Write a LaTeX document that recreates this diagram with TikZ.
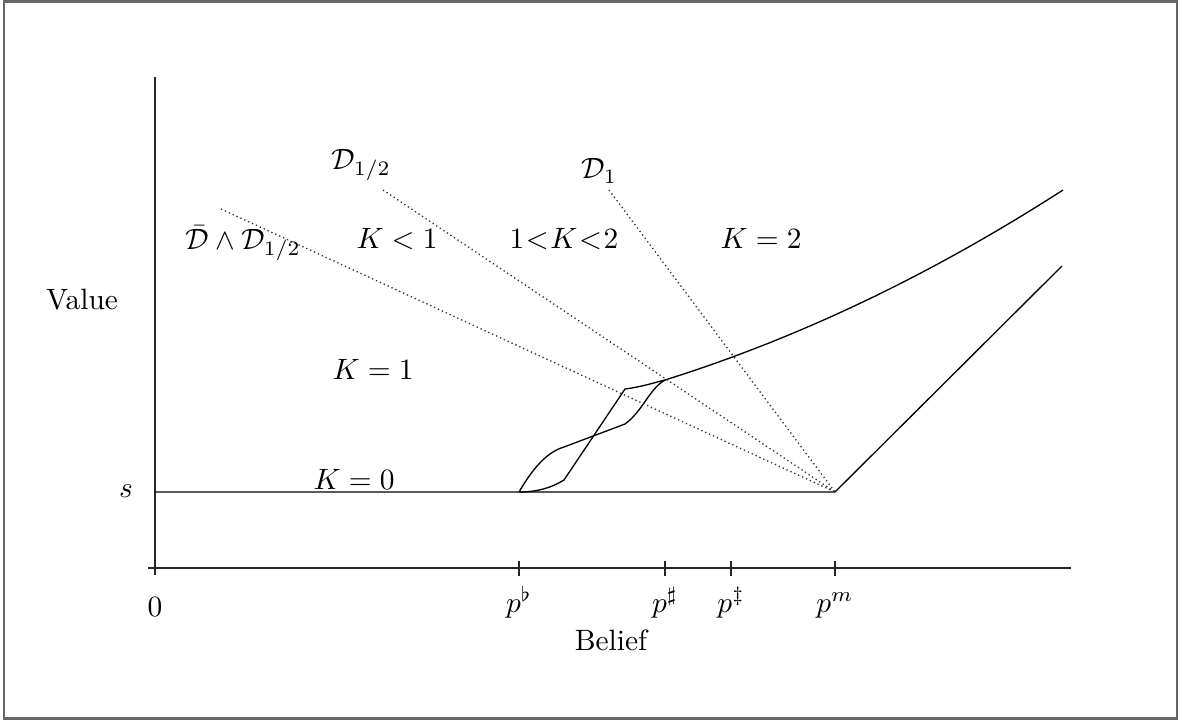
\documentclass[tikz,border=0pt]{standalone}
\usepackage{amssymb}
\begin{document}
\begin{tikzpicture}[x=0.34pt,y=-0.34pt,
  axis/.style={line width=0.55pt,black!85},
  curve/.style={line width=0.45pt,black},
  dots/.style={densely dotted,line width=0.45pt,black!80},
  lbl/.style={inner sep=0pt,anchor=base},
  frame/.style={line width=0.7pt,black!60}]
\useasboundingbox (0,0) rectangle (1182,720);
\draw[frame] (4,1.5) rectangle (1177,718.5);
% axes
\coordinate (ytop) at (155,77);
\coordinate (ybot) at (155,575);
\coordinate (xl) at (148,568);
\coordinate (xr) at (1071,568);
\draw[axis] (ytop) -- (ybot);
\draw[axis] (xl) -- (xr);
\foreach \x/\n in {519/pb,665/ps,731/pd,835/pm}{
  \coordinate (\n t) at (\x,561);
  \coordinate (\n b) at (\x,576);
  \draw[axis] (\n t) -- (\n b);
}
% key points
\coordinate (s0) at (155,492);
\coordinate (B) at (519,492);
\coordinate (M) at (835,492);
\coordinate (S) at (665,380);
\coordinate (E1) at (1063,190);
\coordinate (E2) at (1062,266);
\draw[curve] (s0) -- (M) -- (E2);
\draw[curve] (S) .. controls (797.7,338.4) and (930.3,275.4) .. (E1);
\coordinate (a1) at (564,447);
\coordinate (a2) at (625,424);
\coordinate (b1) at (564,480);
\coordinate (b2) at (625,389);
\draw[curve] (B) .. controls (533,468) and (547,452) .. (a1) -- (a2) .. controls (642,412) and (650,388) .. (S);
\draw[curve] (B) .. controls (537,492) and (551,488) .. (b1) -- (b2) .. controls (641,387) and (653,383) .. (S);
% dotted boundaries
\coordinate (d0) at (221,209);
\coordinate (d1) at (383,190);
\coordinate (d2) at (609,190);
\draw[dots] (d0) -- (M);
\draw[dots] (d1) -- (M);
\draw[dots] (d2) -- (M);
% labels
\node[lbl] (value) at (82,310) {Value};
\node[lbl] (slab) at (126,497) {$s$};
\node[lbl] (zero) at (155,616) {$0$};
\node[lbl] (pflat) at (519,612) {$p^\flat$};
\node[lbl] (psharp) at (665,612) {$p^\sharp$};
\node[lbl] (pdag) at (731,612) {$p^\ddagger$};
\node[lbl] (pm) at (835,612) {$p^m$};
\node[lbl] (belief) at (611,650) {Belief};
\node[lbl] (k0) at (354,489) {$K=0$};
\node[lbl] (k1) at (373,379) {$K=1$};
\node[lbl] (dbar) at (243,250) {$\bar{\mathcal D}\wedge\mathcal D_{1/2}$};
\node[lbl] (klt1) at (397,249) {$K<1$};
\node[lbl] (k12) at (564,249) {$1\mkern1mu{<}\mkern1mu K\mkern1mu{<}\mkern1mu2$};
\node[lbl] (k2) at (761,249) {$K=2$};
\node[lbl] (dhalf) at (361,170) {$\mathcal D_{1/2}$};
\node[lbl] (done) at (599,179) {$\mathcal D_1$};
\end{tikzpicture}
\end{document}
